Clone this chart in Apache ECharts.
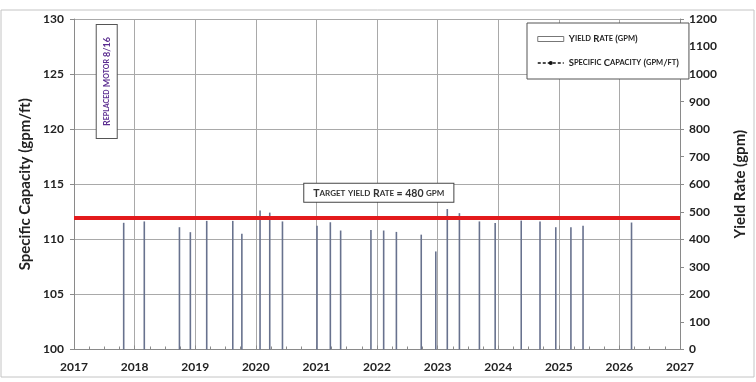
<!DOCTYPE html>
<html><head><meta charset="utf-8">
<script src="https://cdn.jsdelivr.net/npm/echarts@6/dist/echarts.min.js"></script>
<style>html,body{margin:0;padding:0;background:#fff}#c{width:756px;height:382px}</style>
</head><body><div id="c"></div>
<script>
// ---- data ----
const yearTicks = [2017, 2018, 2019, 2020, 2021, 2022, 2023, 2024, 2025, 2026, 2027];
const capacityTicks = [100, 105, 110, 115, 120, 125, 130];
const yieldTicks = [0, 100, 200, 300, 400, 500, 600, 700, 800, 900, 1000, 1100, 1200];
const testDates = [2017.82, 2018.16, 2018.74, 2018.92, 2019.19, 2019.62, 2019.77, 2020.07, 2020.23, 2020.44,
                   2021.01, 2021.23, 2021.40, 2021.90, 2022.11, 2022.32, 2022.73, 2022.97, 2023.16, 2023.36,
                   2023.69, 2023.95, 2024.38, 2024.69, 2024.95, 2025.20, 2025.40, 2026.20];
const yieldRates = [460, 465, 444, 426, 467, 467, 420, 505, 497, 465,
                    449, 462, 432, 434, 432, 427, 417, 356, 510, 495,
                    465, 459, 468, 465, 444, 444, 449, 461];
const specificCapacity = []; // no points plotted in the reference
const targetYield = 480;
const motorNote = 'Replaced Motor 8/16';
const motorNoteAt = [2017.54, 973];
const targetNoteAt = [2022.03, 569];

// small caps helper via rich text
function sc(str, big, small) {
  let out = '';
  str.replace(/([a-z]+)|([^a-z]+)/g, (m, l, o) => {
    out += l ? '{' + small + '|' + l.toUpperCase() + '}' : '{' + big + '|' + o + '}';
    return m;
  });
  return out;
}
const FF = 'Lato, "Liberation Sans", sans-serif';

const barData = testDates.map((d, i) => [d, yieldRates[i]]);

const chart = echarts.init(document.getElementById('c'), null, {renderer: 'canvas'});
chart.setOption({
  animation: false,
  backgroundColor: '#fff',
  graphic: [{
    type: 'rect', silent: true, z: -10,
    shape: {x: 1, y: 10, width: 753, height: 367},
    style: {fill: 'none', stroke: '#c4c4c4', lineWidth: 1}
  }],
  grid: {left: 74, right: 61, top: 19, bottom: 32.5, containLabel: false},
  legend: {
    orient: 'vertical', left: 527, top: 23, z: 10,
    backgroundColor: '#fff', borderColor: '#555', borderWidth: 1,
    padding: [11, 10, 11, 10], itemGap: 14, itemWidth: 26, itemHeight: 5,
    data: [
      {name: 'Yield Rate (gpm)', icon: 'rect', itemStyle: {color: '#fff', borderColor: '#777', borderWidth: 1}},
      {name: 'Specific Capacity (gpm/ft)', lineStyle: {type: [3, 2], width: 1.5, color: '#111'},
       itemStyle: {color: '#111'}}
    ],
    formatter: n => sc(n, 'b', 's'),
    textStyle: {
      width: 122,
      rich: {
        b: {fontSize: 9.5, fontWeight: 'bold', fontFamily: FF, color: '#222'},
        s: {fontSize: 7.5, fontWeight: 'bold', fontFamily: FF, color: '#222'}
      }
    }
  },
  xAxis: {
    type: 'value', min: yearTicks[0], max: yearTicks[yearTicks.length - 1], interval: 1,
    axisLine: {show: true, lineStyle: {color: '#8a8a8a'}},
    axisTick: {show: true, inside: true, length: 4, lineStyle: {color: '#8a8a8a'}},
    minorTick: {show: true, splitNumber: 4, length: 3, lineStyle: {color: '#8a8a8a'}},
    splitLine: {show: true, lineStyle: {color: '#a9a9a9', width: 1}},
    axisLabel: {formatter: v => String(v), fontFamily: FF, fontWeight: 'bold', fontSize: 12, color: '#222', margin: 12}
  },
  yAxis: [{
    type: 'value', min: capacityTicks[0], max: capacityTicks[capacityTicks.length - 1], interval: 5,
    position: 'left',
    name: 'Specific Capacity (gpm/ft)', nameLocation: 'middle', nameGap: 36, nameRotate: 90,
    nameTextStyle: {fontFamily: FF, fontWeight: 'bold', fontSize: 15, color: '#222'},
    axisLine: {show: true, lineStyle: {color: '#8a8a8a'}},
    axisTick: {show: true, inside: false, length: 4, lineStyle: {color: '#8a8a8a'}},
    splitLine: {show: true, lineStyle: {color: '#a9a9a9', width: 1}},
    axisLabel: {formatter: v => String(v), fontFamily: FF, fontWeight: 'bold', fontSize: 12, color: '#222', margin: 10}
  }, {
    type: 'value', min: yieldTicks[0], max: yieldTicks[yieldTicks.length - 1], interval: 100,
    position: 'right',
    name: 'Yield Rate (gpm)', nameLocation: 'middle', nameGap: 53, nameRotate: 90,
    nameTextStyle: {fontFamily: FF, fontWeight: 'bold', fontSize: 15, color: '#222'},
    axisLine: {show: true, lineStyle: {color: '#8a8a8a'}},
    axisTick: {show: true, inside: false, length: 4, lineStyle: {color: '#8a8a8a'}},
    splitLine: {show: false},
    axisLabel: {formatter: v => String(v), fontFamily: FF, fontWeight: 'bold', fontSize: 12, color: '#222', margin: 9}
  }],
  series: [{
    name: 'Yield Rate (gpm)', type: 'bar', xAxisIndex: 0, yAxisIndex: 1,
    barWidth: 1.6, data: barData,
    itemStyle: {color: '#68728e'},
    markLine: {
      silent: true, symbol: 'none', animation: false,
      label: {show: false},
      lineStyle: {color: '#e31a1c', width: 4, type: 'solid'},
      data: [{yAxis: targetYield}]
    },
    markPoint: {
      silent: true, symbol: 'rect', symbolSize: 1, itemStyle: {color: 'rgba(0,0,0,0)'},
      data: [{
        coord: targetNoteAt,
        label: {
          show: true, position: 'inside',
          formatter: sc('Target yield Rate = ' + targetYield + ' gpm', 'b', 's'),
          backgroundColor: '#fff', borderColor: '#444', borderWidth: 1, padding: [4, 9, 3, 9],
          rich: {
            b: {fontSize: 10.5, fontWeight: 'bold', fontFamily: FF, color: '#333'},
            s: {fontSize: 8, fontWeight: 'bold', fontFamily: FF, color: '#333'}
          }
        }
      }, {
        coord: motorNoteAt,
        label: {
          show: true, position: 'inside', rotate: 90,
          formatter: sc(motorNote, 'b', 's'),
          backgroundColor: '#fff', borderColor: '#555', borderWidth: 1, padding: [6, 12, 5, 12],
          rich: {
            b: {fontSize: 9, fontWeight: 'bold', fontFamily: FF, color: '#5b2d90'},
            s: {fontSize: 7, fontWeight: 'bold', fontFamily: FF, color: '#5b2d90'}
          }
        }
      }]
    }
  }, {
    name: 'Specific Capacity (gpm/ft)', type: 'line', xAxisIndex: 0, yAxisIndex: 0,
    data: specificCapacity,
    symbol: 'circle', symbolSize: 6,
    itemStyle: {color: '#111'},
    lineStyle: {type: 'dashed', color: '#111', width: 1.5}
  }]
});
</script>
</body></html>
